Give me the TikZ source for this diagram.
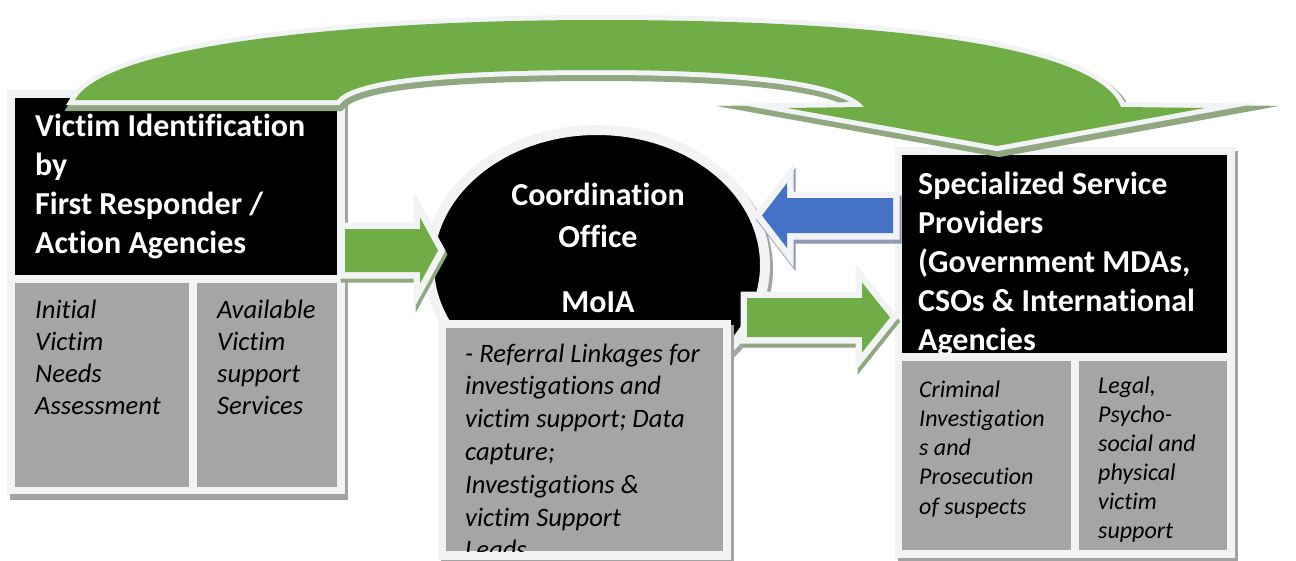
\documentclass[tikz,border=0pt]{standalone}
\usepackage{fontspec}
\setmainfont{Carlito}[Ligatures=NoCommon]
\usetikzlibrary{shapes.geometric,calc}
\definecolor{grn}{HTML}{70AD47}
\definecolor{blu}{HTML}{4472C4}
\definecolor{gry}{HTML}{A5A5A5}
\definecolor{lite}{HTML}{F2F3F5}
\definecolor{shd}{HTML}{A3A3A3}
\definecolor{gshd}{HTML}{8FA87F}
\definecolor{bshd}{HTML}{8E9BB2}
\tikzset{
 panel/.style={anchor=north west, inner sep=0pt, outer sep=0pt, draw=none},
 ttl/.style={anchor=base west, inner sep=0pt, text=white, font=\bfseries\fontsize{32}{38}\selectfont},
 ctl/.style={anchor=base, inner sep=0pt, text=white, font=\bfseries\fontsize{32}{38}\selectfont},
 itl/.style={anchor=base west, inner sep=0pt, text=black, font=\itshape\fontsize{26.6}{32}\selectfont},
 its/.style={anchor=base west, inner sep=0pt, text=black, font=\itshape\fontsize{24}{29}\selectfont},
 shadowed/.style n args={2}{preaction={fill=#1, draw=#1, line width=#2, miter limit=25, transform canvas={shift={(2pt,-4pt)}}}},
 bordered/.style={preaction={draw=lite, line width=#1, miter limit=25}},
}
\newcommand\txtlines[6]{\foreach \mytxt [count=\myi from 0] in {#6}{\node[#2] (#1\myi) at (#3,{#4+\myi*#5}) {\mytxt};}}
% arrow pointing right / left: start, tip, shaft half, head half, head length
\newcommand\rarrow[5]{ let \p1=(#1), \p2=(#2) in
 (\x1,\y1+#3) -- (\x2-#5,\y1+#3) -- (\x2-#5,\y1+#4) -- (\x2,\y2) -- (\x2-#5,\y1-#4) -- (\x2-#5,\y1-#3) -- (\x1,\y1-#3) -- cycle}
\newcommand\larrow[5]{ let \p1=(#1), \p2=(#2) in
 (\x1,\y1+#3) -- (\x2+#5,\y1+#3) -- (\x2+#5,\y1+#4) -- (\x2,\y2) -- (\x2+#5,\y1-#4) -- (\x2+#5,\y1-#3) -- (\x1,\y1-#3) -- cycle}
\begin{document}
\begin{tikzpicture}[x=1pt,y=-1pt]
\fill[white] (0,0) rectangle (1296,560);
\useasboundingbox (0,0) rectangle (1296,560);
% ---------- left panel
\fill[shd] (10,96) rectangle (348,500);
\node[panel, fill=lite, minimum width=338, minimum height=404] (lframe) at (7,90) {};
\node[panel, fill=black, minimum width=322, minimum height=177] (lid) at (15,98) {};
\node[panel, fill=gry, minimum width=174, minimum height=204] (lneeds) at (15,283) {};
\node[panel, fill=gry, minimum width=140, minimum height=204] (lserv) at (197,283) {};
\txtlines{lt}{ttl}{35}{136}{39}{Victim Identification,by,First Responder /,Action Agencies}
\txtlines{ln}{itl}{35}{318}{32}{Initial,Victim,Needs,Assessment}
\txtlines{ls}{itl}{217}{318}{32}{Available,Victim,support,Services}
% ---------- coordination ellipse
\fill[shd] (600,269) ellipse [x radius=173, y radius=140];
\node[ellipse, minimum width=336, minimum height=270, inner sep=0pt, fill=black, draw=lite, line width=10pt] (coord) at (597,265) {};
\node[ctl] (c1) at (598,205) {Coordination};
\node[ctl] (c2) at (598,247) {Office};
\node[ctl] (c3) at (598,312) {MoIA};
% ---------- middle panel
\fill[shd] (441,325) rectangle (734,563);
\node[panel, fill=lite, minimum width=293, minimum height=240] (mframe) at (438,320) {};
\node[panel, fill=gry, minimum width=277, minimum height=223] (mref) at (446,328) {};
\begin{scope}
\clip (446,328) rectangle (723,551);
\txtlines{mt}{itl}{465}{362}{32.8}{- Referral Linkages for,investigations and,victim support; Data,capture;,Investigations \&,victim Support,Leads}
\end{scope}
% ---------- right panel
\fill[shd] (898,151) rectangle (1238,562);
\node[panel, fill=lite, minimum width=340, minimum height=411] (rframe) at (895,147) {};
\node[panel, fill=black, minimum width=325, minimum height=198] (rssp) at (902,155) {};
\node[panel, fill=gry, minimum width=169, minimum height=189] (rcrim) at (902,361) {};
\node[panel, fill=gry, minimum width=148, minimum height=189] (rlegal) at (1079,361) {};
\begin{scope}
\clip (902,155) rectangle (1227,353);
\txtlines{rt}{ttl}{918}{194}{39}{Specialized Service,Providers,{(Government MDAs,},CSOs \& International,Agencies}
\end{scope}
\txtlines{rc}{its}{919}{397}{29.3}{Criminal,Investigation,s and,Prosecution,of suspects}
\begin{scope}
\clip (1079,361) rectangle (1227,550);
\txtlines{rl}{its}{1098}{393}{29}{{Legal,},Psycho-,social and,physical,victim,support}
\end{scope}
% ---------- block arrows
\coordinate (a1s) at (345,250.5);  \coordinate (a1t) at (438,250.5);
\coordinate (a2s) at (893,215.5);  \coordinate (a2t) at (762,215.5);
\coordinate (a3s) at (747,317.5);  \coordinate (a3t) at (890,317.5);
\path[shadowed={gshd}{13pt}, bordered=13pt, fill=grn] \rarrow{a1s}{a1t}{21.5}{33}{18};
\path[shadowed={bshd}{13pt}, bordered=13pt, fill=blu] \larrow{a2s}{a2t}{17.5}{32.5}{25};
\path[shadowed={gshd}{13pt}, bordered=13pt, fill=grn] \rarrow{a3s}{a3t}{19.5}{35}{28};
% ---------- big arch arrow
\path[shadowed={gshd}{14pt}, bordered=10pt, fill=grn] (75,100) .. controls (105,45) and (350,20) .. (600,20)
  .. controls (850,20) and (1095,40) .. (1121,107) -- (1205,108) -- (997,146)
  -- (787,108) -- (864,107) .. controls (845,82) and (750,70) .. (600,70)
  .. controls (450,70) and (355,78) .. (337,100) -- cycle;
\end{tikzpicture}
\end{document}
